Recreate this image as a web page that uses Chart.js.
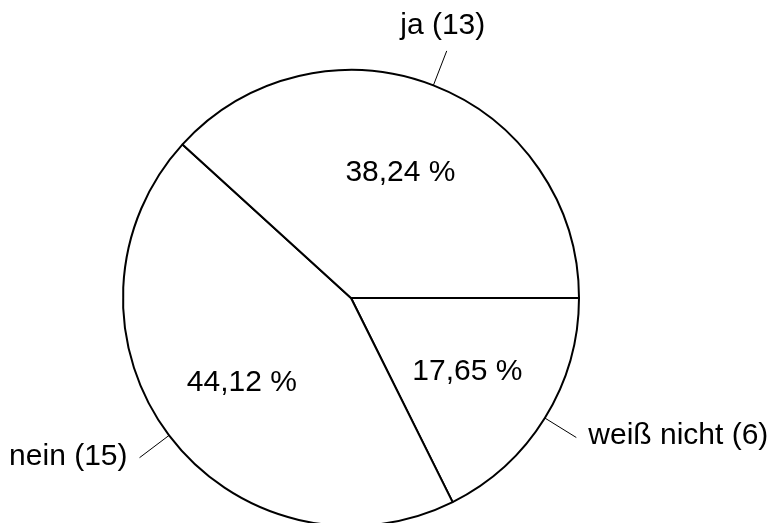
<!DOCTYPE html>
<html>
<head>
<meta charset="utf-8">
<script src="https://cdn.jsdelivr.net/npm/chart.js@4/dist/chart.umd.min.js"></script>
<style>
  html, body { margin: 0; padding: 0; background: #fff; overflow: hidden; }
  #chart { display: block; }
</style>
</head>
<body>
<canvas id="chart" width="772" height="540"></canvas>
<script>
// Answers, listed clockwise starting at 3 o'clock
const categories = ['weiß nicht', 'nein', 'ja'];
const counts = [6, 15, 13];

const FONT = '30px "Liberation Sans", Arial, sans-serif';

// Percent labels inside the slices, names with counts outside on short leader lines
const sliceLabels = {
  id: 'sliceLabels',
  afterDatasetsDraw(chart) {
    const ctx = chart.ctx;
    const meta = chart.getDatasetMeta(0);
    const total = counts.reduce((a, b) => a + b, 0);
    meta.data.forEach((arc, i) => {
      const p = arc.getProps(['x', 'y', 'startAngle', 'endAngle', 'outerRadius'], true);
      const mid = (p.startAngle + p.endAngle) / 2;
      const cx = Math.cos(mid), sy = Math.sin(mid);
      ctx.save();
      ctx.fillStyle = '#000';
      ctx.strokeStyle = '#000';
      ctx.font = FONT;

      const pct = (counts[i] / total * 100).toFixed(2).replace('.', ',') + ' %';
      const pr = p.outerRadius * 0.6;
      ctx.textAlign = 'center';
      ctx.textBaseline = 'middle';
      ctx.fillText(pct, p.x + cx * pr, p.y + sy * pr + 2);

      const r1 = p.outerRadius, r2 = p.outerRadius + 37;
      const ex = p.x + cx * r2, ey = p.y + sy * r2;
      ctx.lineWidth = 1;
      ctx.beginPath();
      ctx.moveTo(p.x + cx * r1, p.y + sy * r1);
      ctx.lineTo(ex, ey);
      ctx.stroke();

      const text = categories[i] + ' (' + counts[i] + ')';
      if (cx > 0.5) {
        ctx.textAlign = 'left';
        ctx.fillText(text, ex + 12, ey - 2);
      } else if (cx < -0.5) {
        ctx.textAlign = 'right';
        ctx.fillText(text, ex - 12, ey - 1);
      } else {
        ctx.textAlign = 'center';
        ctx.fillText(text, ex - 4, ey - 25);
      }
      ctx.restore();
    });
  }
};

new Chart(document.getElementById('chart'), {
  type: 'pie',
  data: {
    labels: categories,
    datasets: [{
      data: counts,
      backgroundColor: '#ffffff',
      borderColor: '#000000',
      borderWidth: 2,
      hoverOffset: 0,
      offset: 0
    }]
  },
  options: {
    responsive: false,
    animation: false,
    events: [],
    rotation: 90,
    layout: { padding: { left: 122, right: 192, top: 69, bottom: 13 } },
    plugins: {
      legend: { display: false },
      tooltip: { enabled: false }
    }
  },
  plugins: [sliceLabels]
});
</script>
</body>
</html>
